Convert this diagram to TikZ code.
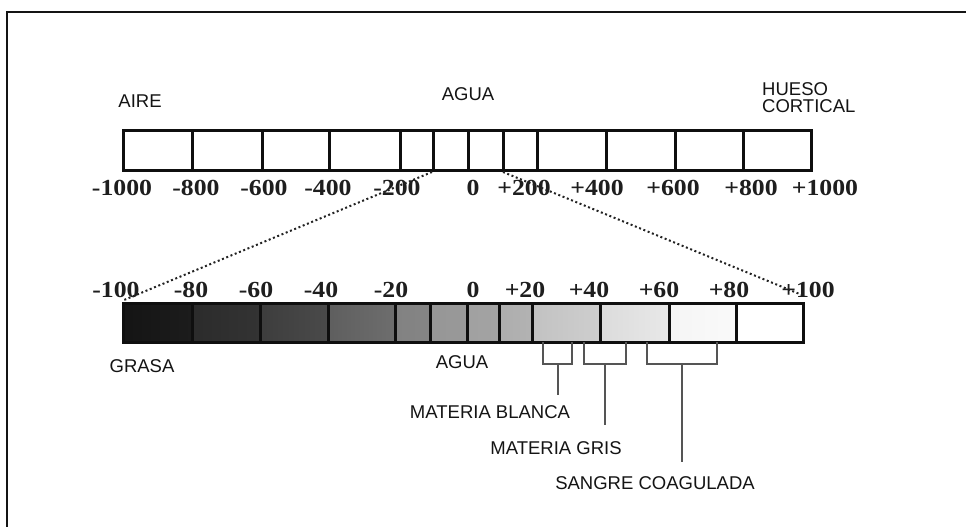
\documentclass[tikz,border=0pt]{standalone}
\usepackage{fontspec}
\setmainfont{Liberation Serif}
\setsansfont{Liberation Sans}
\usepackage{graphicx}
\usetikzlibrary{positioning}
\definecolor{framecol}{RGB}{20,20,20}
\definecolor{barcol}{RGB}{15,15,15}
\definecolor{brackcol}{RGB}{85,85,85}
\definecolor{dotcol}{RGB}{35,35,35}
\definecolor{numcol}{RGB}{30,30,30}
\definecolor{labcol}{RGB}{20,20,20}
\newcommand{\hunum}[1]{\scalebox{1.12}[1]{#1}}
\tikzset{
  num/.style={font=\fontsize{23}{23}\selectfont\bfseries, text=numcol, inner sep=0pt},
  lab/.style={font=\sffamily\fontsize{18.5}{17}\selectfont, text=labcol, inner sep=0pt},
  barbox/.style={line width=3pt, draw=barcol},
  brack/.style={line width=2pt, draw=brackcol},
  zoomline/.style={line width=2pt, dash pattern=on 2pt off 2.6pt, draw=dotcol},
}

\begin{document}
\begin{tikzpicture}[x=1pt, y=-1pt]

  \useasboundingbox (0,0) rectangle (966,527);

  % frame: only top and left edges are in the picture
  \draw[line width=2.2pt, framecol] (966,12) -- (7,12) -- (7,527);

  % upper scale, -1000 .. +1000
  \node[lab] (aire) at (140,101) {AIRE};
  \node[lab] (aguaup) at (468,94) {AGUA};
  \node[lab, anchor=west, align=left] (hueso) at (762,97.5) {HUESO\\CORTICAL};

  \draw[barbox] (123,130) rectangle (811,170);
  \foreach \x in {192,262,329,400,433,468,503,537,606,675,743}
    \draw[barbox] (\x,130) -- (\x,170);

  \foreach \x/\t [count=\i] in {122/-1000, 196/-800, 264/-600, 328/-400, 397/-200,
      473/0, 524/+200, 597/+400, 673/+600, 751/+800, 825/+1000}
    \node[num] (up\i) at (\x,187.5) {\hunum{\t}};

  % lower scale, -100 .. +100 (grey levels)
  \foreach \xa/\xb/\ca/\cb in {123/192/92/89, 192/260/83/80, 260/328/76/71,
      328/395/63/57, 395/430/49/48, 430/467/41/40, 467/499/37/36, 499/532/32/30,
      532/600/24/19, 600/669/14/9, 669/736/4/2, 736/803/0/0}
    \shade[left color=black!\ca, right color=black!\cb] (\xa,303) rectangle (\xb,342);

  \draw[barbox] (123,303) rectangle (803,342);
  \foreach \x in {192,260,328,395,430,467,499,532,600,669,736}
    \draw[barbox] (\x,303) -- (\x,342);

  \foreach \x/\t [count=\i] in {116/-100, 191/-80, 256/-60, 321/-40, 391/-20,
      473/0, 525/+20, 589/+40, 659/+60, 729/+80, 808/+100}
    \node[num] (lo\i) at (\x,290) {\hunum{\t}};

  \node[lab] (grasa) at (142,366) {GRASA};
  \node[lab] (agualo) at (462,362) {AGUA};
  \node[lab] (blanca) at (490,412) {MATERIA BLANCA};
  \node[lab] (gris) at (556,448) {MATERIA GRIS};
  \node[lab] (sangre) at (655,483) {SANGRE COAGULADA};

  % zoom from -100..+100 of the upper scale
  \coordinate (upL) at (432,172);
  \coordinate (upR) at (503,172);
  \coordinate (loL) at (124,300);
  \coordinate (loR) at (802,295);
  \draw[zoomline] (upL) -- (loL);
  \draw[zoomline] (upR) -- (loR);

  % brackets for tissues
  \foreach \xa/\xb/\ye in {543/572/395, 584/626/425, 647/717/462} {
    \draw[brack] (\xa,342) -- (\xa,364) -- (\xb,364) -- (\xb,342);
    \draw[brack] ({(\xa+\xb)/2},364) -- ({(\xa+\xb)/2},\ye);
  }

\end{tikzpicture}
\end{document}
